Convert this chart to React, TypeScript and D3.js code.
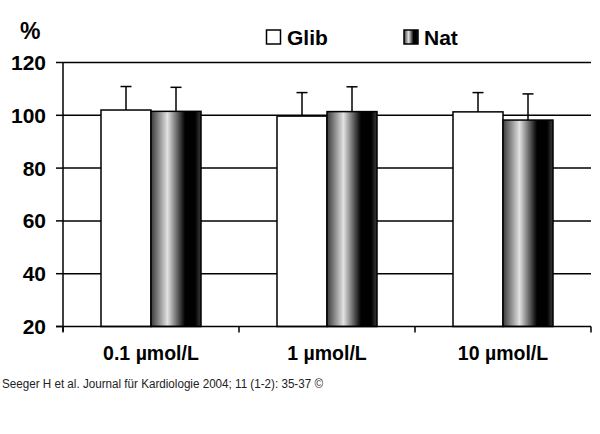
import React from "react";
import * as d3 from "d3";

const categories = ["0.1 µmol/L", "1 µmol/L", "10 µmol/L"];
const seriesNames = ["Glib", "Nat"];
const glibValues = [102, 99.7, 101.3];
const natValues = [101.5, 101.4, 98.2];
const glibErrors = [8.9, 8.9, 7.3];
const natErrors = [9.1, 9.4, 9.9];
const yTicks = [20, 40, 60, 80, 100, 120];
const citation = "Seeger H et al. Journal für Kardiologie 2004; 11 (1-2): 35-37 ©";

export default function App() {
  const W = 600, H = 434;
  const left = 63, right = 591, top = 62.5, bottom = 326.5;
  const x = d3.scaleBand<string>().domain(categories).range([left, right]).paddingInner(0).paddingOuter(0);
  const y = d3.scaleLinear().domain([20, 120]).range([bottom, top]);
  const barW = 50;
  const font = "'Liberation Sans', Arial, sans-serif";
  const series = [
    { name: seriesNames[0], values: glibValues, errors: glibErrors, fill: "#fff" },
    { name: seriesNames[1], values: natValues, errors: natErrors, fill: "url(#natGrad)" },
  ];
  const boundaries = [left, ...categories.map((c) => (x(c) as number) + x.bandwidth())];
  return (
    <div style={{ position: "absolute", left: 0, top: 0 }}>
      <svg width={W} height={H} style={{ display: "block", background: "#fff" }} fontFamily={font}>
        <defs>
          <linearGradient id="natGrad" x1="0" x2="1" y1="0" y2="0">
            <stop offset="0" stopColor="#3a3a3a" />
            <stop offset="0.33" stopColor="#e2e2e2" />
            <stop offset="0.68" stopColor="#000" />
            <stop offset="0.88" stopColor="#000" />
            <stop offset="1" stopColor="#3c3c3c" />
          </linearGradient>
        </defs>
        {yTicks.filter((t) => t > 20).map((t) => (
          <line key={t} x1={left} x2={right} y1={y(t)} y2={y(t)} stroke="#000" strokeWidth={1.5} />
        ))}
        {series.map((s, si) =>
          categories.map((c, ci) => {
            const cx = (x(c) as number) + x.bandwidth() / 2;
            const bx = cx - barW + si * barW;
            const v = s.values[ci];
            const e = s.errors[ci];
            const mid = bx + barW / 2;
            return (
              <g key={s.name + c}>
                <line x1={mid} x2={mid} y1={y(v)} y2={y(v + e)} stroke="#000" strokeWidth={1.5} />
                <line x1={mid - 5.5} x2={mid + 5.5} y1={y(v + e)} y2={y(v + e)} stroke="#000" strokeWidth={1.5} />
                <rect x={bx} y={y(v)} width={barW} height={bottom - y(v)} fill={s.fill} stroke="#000" strokeWidth={1.5} />
              </g>
            );
          })
        )}
        <line x1={left} x2={left} y1={top} y2={bottom + 5} stroke="#000" strokeWidth={1.5} />
        <line x1={left - 7} x2={right} y1={bottom} y2={bottom} stroke="#000" strokeWidth={1.5} />
        {yTicks.map((t) => (
          <g key={t}>
            <line x1={left - 7} x2={left} y1={y(t)} y2={y(t)} stroke="#000" strokeWidth={1.5} />
            <text x={46} y={y(t) + 7.5} textAnchor="end" fontSize={21} fontWeight="bold">{t}</text>
          </g>
        ))}
        {boundaries.map((b, i) => (
          <line key={i} x1={b} x2={b} y1={bottom} y2={bottom + 6} stroke="#000" strokeWidth={1.5} />
        ))}
        {categories.map((c) => (
          <text key={c} x={(x(c) as number) + x.bandwidth() / 2} y={360} textAnchor="middle" fontSize={19.5} fontWeight="bold">{c}</text>
        ))}
        <text x={20} y={39} fontSize={23} fontWeight="bold">%</text>
        <rect x={266.5} y={30} width={14} height={14} fill="#fff" stroke="#000" strokeWidth={1.5} />
        <text x={287} y={44.5} fontSize={21} fontWeight="bold">{seriesNames[0]}</text>
        <rect x={404} y={30} width={14} height={14} fill="url(#natGrad)" stroke="#000" strokeWidth={1.5} />
        <text x={424} y={44.5} fontSize={21} fontWeight="bold">{seriesNames[1]}</text>
        <text x={2} y={388} fontSize={12} fill="#222" textLength={321} lengthAdjust="spacingAndGlyphs">{citation}</text>
      </svg>
    </div>
  );
}
